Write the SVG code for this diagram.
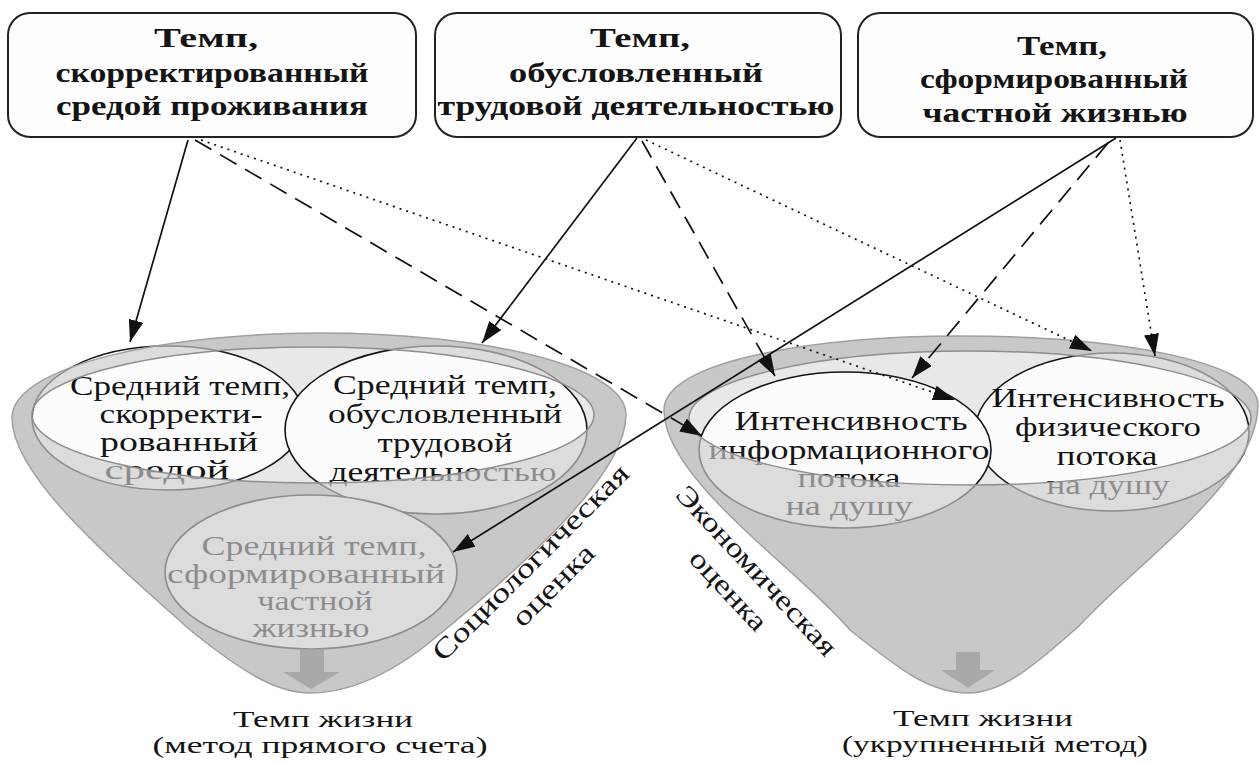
<svg xmlns="http://www.w3.org/2000/svg" width="1259" height="764" viewBox="0 0 1259 764">
<defs>
<style>
.box{fill:#fefefe;stroke:#222;stroke-width:2}
.bt{font-family:"Liberation Serif","Times New Roman","DejaVu Serif",serif;font-weight:bold;font-size:28px;fill:#141414;text-anchor:middle}
.ct{font-family:"Liberation Serif","Times New Roman","DejaVu Serif",serif;font-size:27px;fill:#141414;text-anchor:middle}
.lt{font-family:"Liberation Serif","Times New Roman","DejaVu Serif",serif;font-size:24px;fill:#141414;text-anchor:middle}
.rt{font-family:"Liberation Serif","Times New Roman","DejaVu Serif",serif;font-size:28px;fill:#141414;text-anchor:middle}
.funnel{fill:#c0c0c0}
.fedge{fill:none;stroke:#a0a0a0;stroke-width:1.5}
.rim{fill:#e8e8e8}
.rimedge{fill:none;stroke:#8e8e8e;stroke-width:1.5}
.circ{fill:#fcfcfc;stroke:#151515;stroke-width:1.6}
.ov{fill:#cbcbcb;fill-opacity:0.66;fill-rule:evenodd}
.garr{fill:#a9a9a9}
.c{fill:none;stroke:#111;stroke-width:1.7;marker-end:url(#ah)}
.dash{stroke-dasharray:19 10}
.dot{stroke-dasharray:2 5}
</style>
<marker id="ah" viewBox="0 0 22 15" refX="22" refY="7.5" markerWidth="22" markerHeight="15" markerUnits="userSpaceOnUse" orient="auto">
<path d="M0,0 L22,7.5 L0,15 Z" fill="#111" stroke="none"/>
</marker>
</defs>

<g id="box1">
<rect class="box" x="8" y="13" width="408" height="124" rx="22"/>
<text class="bt" x="206" y="47" textLength="104" lengthAdjust="spacingAndGlyphs">Темп,</text>
<text class="bt" x="212" y="82" textLength="313" lengthAdjust="spacingAndGlyphs">скорректированный</text>
<text class="bt" x="212" y="115" textLength="312" lengthAdjust="spacingAndGlyphs">средой проживания</text>
</g>
<g id="box2">
<rect class="box" x="435" y="13" width="406" height="124" rx="22"/>
<text class="bt" x="640" y="47" textLength="100" lengthAdjust="spacingAndGlyphs">Темп,</text>
<text class="bt" x="636" y="82" textLength="254" lengthAdjust="spacingAndGlyphs">обусловленный</text>
<text class="bt" x="636" y="115" textLength="397" lengthAdjust="spacingAndGlyphs">трудовой деятельностью</text>
</g>
<g id="box3">
<rect class="box" x="858" y="13" width="395" height="124" rx="22"/>
<text class="bt" x="1062" y="55" textLength="90" lengthAdjust="spacingAndGlyphs">Темп,</text>
<text class="bt" x="1054" y="88" textLength="268" lengthAdjust="spacingAndGlyphs">сформированный</text>
<text class="bt" x="1055" y="122" textLength="265" lengthAdjust="spacingAndGlyphs">частной жизнью</text>
</g>

<g id="funnel-left">
<path class="funnel" d="M310 693 C275 693 240 670 190 630 C130 575 12 480 12 418 C12 365 170 333 320 333 C480 333 626 365 626 415 C626 475 520 570 420 650 C375 683 340 693 310 693 Z"/>
<ellipse class="rim" cx="313" cy="415" rx="281" ry="68"/>
</g>
<g id="node-c1">
<ellipse class="circ" cx="168" cy="418" rx="136" ry="72"/>
<text class="ct" x="180" y="395" textLength="220" lengthAdjust="spacingAndGlyphs">Средний темп,</text>
<text class="ct" x="181" y="423" textLength="163" lengthAdjust="spacingAndGlyphs">скорректи-</text>
<text class="ct" x="179" y="451" textLength="158" lengthAdjust="spacingAndGlyphs">рованный</text>
<text class="ct" x="167" y="479" textLength="125" lengthAdjust="spacingAndGlyphs">средой</text>
</g>
<g id="node-c2">
<ellipse class="circ" cx="436" cy="430" rx="151" ry="84"/>
<text class="ct" x="445" y="394" textLength="224" lengthAdjust="spacingAndGlyphs">Средний темп,</text>
<text class="ct" x="445" y="423" textLength="234" lengthAdjust="spacingAndGlyphs">обусловленный</text>
<text class="ct" x="445" y="452" textLength="135" lengthAdjust="spacingAndGlyphs">трудовой</text>
<text class="ct" x="443" y="481" textLength="227" lengthAdjust="spacingAndGlyphs">деятельностью</text>
</g>
<g id="node-c3">
<ellipse class="circ" cx="311" cy="572" rx="146" ry="77"/>
<text class="ct" x="314" y="555" textLength="225" lengthAdjust="spacingAndGlyphs">Средний темп,</text>
<text class="ct" x="306" y="583" textLength="278" lengthAdjust="spacingAndGlyphs">сформированный</text>
<text class="ct" x="315" y="610" textLength="115" lengthAdjust="spacingAndGlyphs">частной</text>
<text class="ct" x="311" y="637" textLength="117" lengthAdjust="spacingAndGlyphs">жизнью</text>
</g>
<g id="overlay-left">
<path class="ov" d="M310 693 C275 693 240 670 190 630 C130 575 12 480 12 418 C12 365 170 333 320 333 C480 333 626 365 626 415 C626 475 520 570 420 650 C375 683 340 693 310 693 Z M32 415 A281 68 0 1 0 594 415 A281 68 0 1 0 32 415 Z"/>
<path class="fedge" d="M310 693 C275 693 240 670 190 630 C130 575 12 480 12 418 C12 365 170 333 320 333 C480 333 626 365 626 415 C626 475 520 570 420 650 C375 683 340 693 310 693 Z"/>
<ellipse class="rimedge" cx="313" cy="415" rx="281" ry="68"/>
<path class="garr" d="M300 650 L324 650 L324 672 L340 672 L311 689 L283 672 L300 672 Z"/>
</g>

<g id="funnel-right">
<path class="funnel" d="M968 693 C930 693 900 670 850 630 C800 570 664 480 664 410 C664 360 820 336 960 336 C1110 336 1258 360 1258 405 C1258 480 1140 560 1080 625 C1030 670 1000 693 968 693 Z"/>
<ellipse class="rim" cx="970" cy="418" rx="281" ry="67"/>
</g>
<g id="node-r2">
<ellipse class="circ" cx="1112" cy="432" rx="137" ry="79"/>
<text class="ct" x="1108" y="407" textLength="233" lengthAdjust="spacingAndGlyphs">Интенсивность</text>
<text class="ct" x="1108" y="436" textLength="186" lengthAdjust="spacingAndGlyphs">физического</text>
<text class="ct" x="1107" y="465" textLength="101" lengthAdjust="spacingAndGlyphs">потока</text>
<text class="ct" x="1108" y="494" textLength="123" lengthAdjust="spacingAndGlyphs">на душу</text>
</g>
<g id="node-r1">
<ellipse class="circ" cx="845" cy="450" rx="146" ry="78"/>
<text class="ct" x="851" y="430" textLength="233" lengthAdjust="spacingAndGlyphs">Интенсивность</text>
<text class="ct" x="849" y="459" textLength="281" lengthAdjust="spacingAndGlyphs">информационного</text>
<text class="ct" x="849" y="487" textLength="103" lengthAdjust="spacingAndGlyphs">потока</text>
<text class="ct" x="849" y="515" textLength="127" lengthAdjust="spacingAndGlyphs">на душу</text>
</g>
<g id="overlay-right">
<path class="ov" d="M968 693 C930 693 900 670 850 630 C800 570 664 480 664 410 C664 360 820 336 960 336 C1110 336 1258 360 1258 405 C1258 480 1140 560 1080 625 C1030 670 1000 693 968 693 Z M689 418 A281 67 0 1 0 1251 418 A281 67 0 1 0 689 418 Z"/>
<path class="fedge" d="M968 693 C930 693 900 670 850 630 C800 570 664 480 664 410 C664 360 820 336 960 336 C1110 336 1258 360 1258 405 C1258 480 1140 560 1080 625 C1030 670 1000 693 968 693 Z"/>
<ellipse class="rimedge" cx="970" cy="418" rx="281" ry="67"/>
<path class="garr" d="M956 652 L980 652 L980 670 L995 670 L968 688 L941 670 L956 670 Z"/>
</g>

<g id="labels">
<g transform="translate(537,569) rotate(-45)">
<text class="rt" x="0" y="0" textLength="265" lengthAdjust="spacingAndGlyphs">Социологическая</text>
<text class="rt" x="0" y="32" textLength="104" lengthAdjust="spacingAndGlyphs">оценка</text>
</g>
<g transform="translate(750,577) rotate(47)">
<text class="rt" x="0" y="0" textLength="222" lengthAdjust="spacingAndGlyphs">Экономическая</text>
<text class="rt" x="-5" y="34" textLength="100" lengthAdjust="spacingAndGlyphs">оценка</text>
</g>
<text class="lt" x="323" y="727" textLength="180" lengthAdjust="spacingAndGlyphs">Темп жизни</text>
<text class="lt" x="320" y="753" textLength="335" lengthAdjust="spacingAndGlyphs">(метод прямого счета)</text>
<text class="lt" x="983" y="726" textLength="180" lengthAdjust="spacingAndGlyphs">Темп жизни</text>
<text class="lt" x="995" y="752" textLength="306" lengthAdjust="spacingAndGlyphs">(укрупненный метод)</text>
</g>

<g id="connectors">
<path class="c" d="M188 140 L130 342"/>
<path class="c dash" d="M195 140 L702 436"/>
<path class="c dot" d="M201 140 L955 400"/>
<path class="c" d="M637 138 L482 343"/>
<path class="c dash" d="M642 141 L775 376"/>
<path class="c dot" d="M646 140 L1092 351"/>
<path class="c" d="M1116 138 L453 552"/>
<path class="c dash" d="M1108 143 L912 378"/>
<path class="c dot" d="M1120 140 L1155 356"/>
</g>
</svg>
